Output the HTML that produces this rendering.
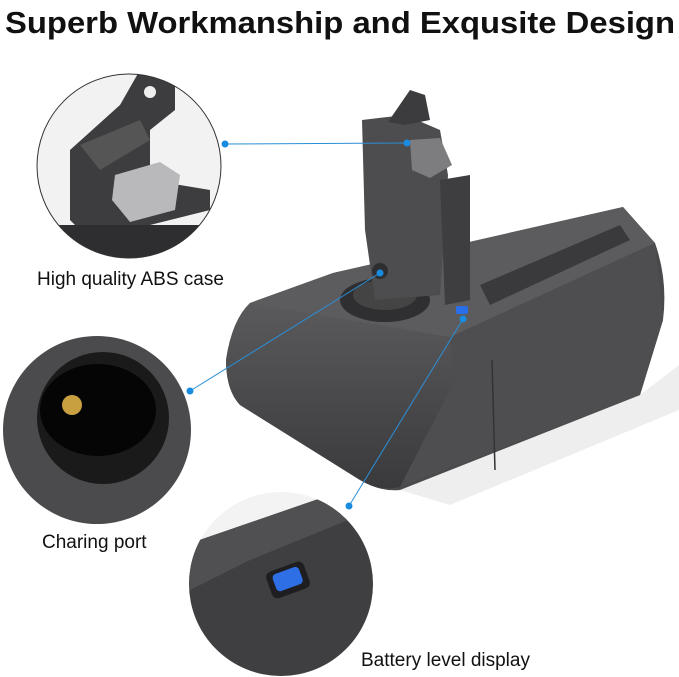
<!DOCTYPE html>
<html><head><meta charset="utf-8"><style>
html,body{margin:0;padding:0;background:#fff;width:679px;height:677px;overflow:hidden}
svg{display:block}
</style></head><body>
<svg width="679" height="677" viewBox="0 0 679 677" xmlns="http://www.w3.org/2000/svg" font-family="Liberation Sans, sans-serif">
<defs>
<clipPath id="c1"><circle cx="129" cy="166" r="92"/></clipPath>
<clipPath id="c3"><circle cx="281" cy="584" r="92"/></clipPath>
<linearGradient id="g1" x1="0" y1="0" x2="0" y2="1"><stop offset="0" stop-color="#5a5a5c"/><stop offset="1" stop-color="#3a3a3c"/></linearGradient>
</defs>
<text x="5" y="33" font-size="31" font-weight="bold" fill="#111" textLength="670" lengthAdjust="spacingAndGlyphs">Superb Workmanship and Exqusite Design</text>

<!-- shadow -->
<polygon points="400,490 640,395 679,365 679,410 450,505" fill="#eeeeee"/>
<!-- battery body -->
<path d="M333,273 L623,207 L655,243 Q668,280 663,320 L640,395 L400,490 Q380,492 360,480 L240,405 Q226,390 226,360 Q232,320 250,303 Z" fill="#4a4a4c"/>
<polygon points="250,303 333,273 623,207 655,243 450,337 400,335" fill="#5c5c5e"/>
<path d="M226,360 Q232,320 250,303 L450,337 L455,380 L400,487 Q380,492 360,480 L240,405 Q226,390 226,360 Z" fill="url(#g1)"/>
<polygon points="450,337 655,243 663,320 640,395 400,487 455,380" fill="#4e4e50"/>
<line x1="492" y1="360" x2="495" y2="470" stroke="#333" stroke-width="1.5"/>
<!-- ribs -->
<polygon points="480,285 620,225 630,240 490,305" fill="#3a3a3c"/>
<!-- tower -->
<ellipse cx="385" cy="300" rx="45" ry="22" fill="#2f2f31"/>
<ellipse cx="385" cy="295" rx="32" ry="15" fill="#444"/>
<polygon points="362,120 405,115 440,130 448,175 440,295 375,300 365,230" fill="#4d4d4f"/>
<polygon points="388,122 410,90 425,95 430,120 405,125" fill="#3c3c3e"/>
<polygon points="410,140 440,138 452,165 430,178 412,170" fill="#7d7d7f"/>
<polygon points="440,180 470,175 470,300 445,305" fill="#3e3e40"/>
<circle cx="380" cy="271" r="8" fill="#2e2e30"/>
<!-- connectors -->
<g stroke="#2a8fd6" stroke-width="1" fill="#1a8ce0">
<line x1="225" y1="144" x2="407" y2="143"/>
<line x1="190" y1="391" x2="380" y2="273"/>
<line x1="349" y1="506" x2="463" y2="319"/>
<circle cx="225" cy="144" r="3.5" stroke="none"/><circle cx="407" cy="143" r="3.5" stroke="none"/>
<circle cx="190" cy="391" r="3.5" stroke="none"/><circle cx="380" cy="273" r="3.5" stroke="none"/>
<circle cx="349" cy="506" r="3.5" stroke="none"/><circle cx="463" cy="319" r="3.5" stroke="none"/>
</g>
<rect x="456" y="306" width="12" height="8" rx="2" fill="#2a6ee8"/>

<!-- top circle -->
<g clip-path="url(#c1)">
<rect x="30" y="70" width="200" height="200" fill="#f2f2f2"/>
<polygon points="70,150 120,105 140,70 175,70 175,110 150,130 150,180 210,190 210,210 90,240 70,220" fill="#3d3d3f"/>
<polygon points="80,145 140,120 150,140 100,170" fill="#555"/>
<polygon points="115,175 160,162 180,175 175,210 130,222 112,200" fill="#b9b9bb"/>
<circle cx="150" cy="92" r="6" fill="#eee"/>
<rect x="30" y="225" width="200" height="45" fill="#2e2e30"/>
</g>
<circle cx="129" cy="166" r="92" fill="none" stroke="#333" stroke-width="1"/>
<!-- mid circle -->
<circle cx="97" cy="430" r="94" fill="#4b4b4d"/>
<circle cx="103" cy="418" r="66" fill="#1a1a1a"/>
<ellipse cx="98" cy="410" rx="58" ry="46" fill="#050505"/>
<circle cx="72" cy="405" r="10" fill="#c9a040"/>
<!-- bottom circle -->
<g clip-path="url(#c3)">
<rect x="185" y="490" width="200" height="190" fill="#f3f3f3"/>
<polygon points="185,545 330,495 385,505 385,680 185,680" fill="#3f3f41"/>
<polygon points="185,545 330,495 385,505 250,560 190,590" fill="#505052"/>
<rect x="268" y="566" width="40" height="28" rx="6" fill="#1e1e20" transform="rotate(-20 288 580)"/>
<rect x="274" y="570" width="28" height="18" rx="4" fill="#2f6fe6" transform="rotate(-20 288 580)"/>
</g>

<g font-size="19" fill="#111">
<text x="37" y="285">High quality ABS case</text>
<text x="42" y="548">Charing port</text>
<text x="361" y="666">Battery level display</text>
</g>
</svg>
</body></html>
